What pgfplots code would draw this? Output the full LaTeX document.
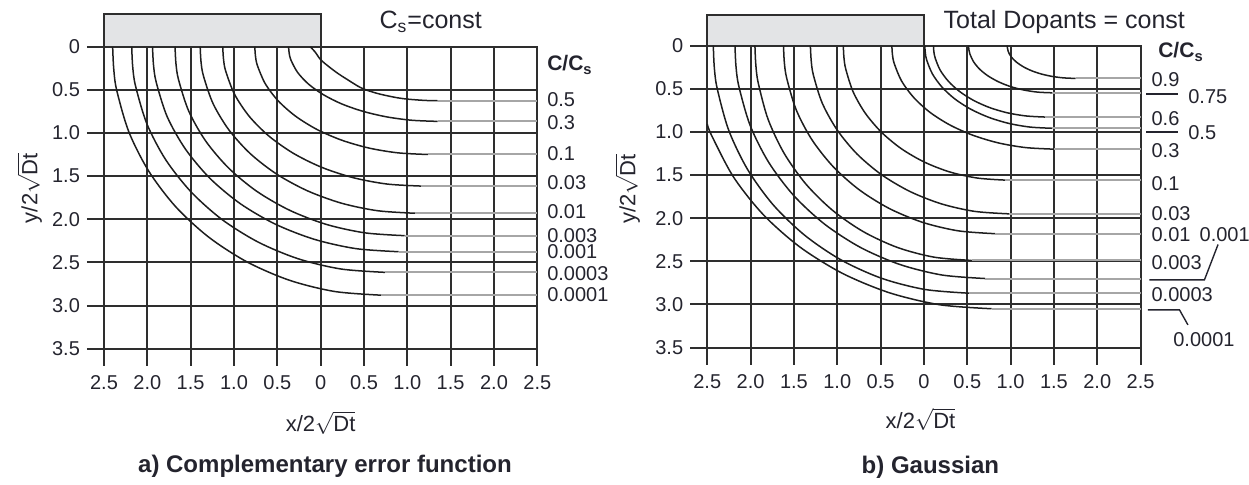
\documentclass[border=0pt]{standalone}
\usepackage{fontspec}
\setmainfont{Liberation Sans}
\usepackage{pgfplots}
\pgfplotsset{compat=1.18}

\definecolor{gridc}{HTML}{2E2E2E}
\definecolor{curvec}{HTML}{1E1E1E}
\definecolor{flatc}{HTML}{A6A6A6}
\definecolor{maskc}{HTML}{E3E4E6}
\definecolor{txt}{HTML}{24242E}

\tikzset{
  lbl/.style={anchor=west, text=txt, font=\fontsize{10}{11}\selectfont, inner sep=0pt},
}

\pgfplotsset{
  diffgrid/.style={
    x=43.3pt, y=43.1pt,
    xmin=-2.5, xmax=2.5, ymin=0, ymax=3.5,
    y dir=reverse,
    xtick={-2.5,-2,-1.5,-1,-0.5,0,0.5,1,1.5,2,2.5},
    xticklabels={2.5,2.0,1.5,1.0,0.5,0,0.5,1.0,1.5,2.0,2.5},
    ytick={0,0.5,1,1.5,2,2.5,3,3.5},
    yticklabels={0,0.5,1.0,1.5,2.0,2.5,3.0,3.5},
    grid=major,
    major grid style={line width=1pt, gridc},
    axis line style={line width=1pt, gridc},
    tick align=outside,
    major tick length=8.5pt,
    xtick pos=left, xticklabel pos=left,
    ytick pos=left, yticklabel pos=left,
    tick style={line width=1pt, gridc},
    tick label style={font=\fontsize{10}{12}\selectfont, text=txt},
    xticklabel style={yshift=-1.5pt},
    clip=false,
  },
  curve/.style={curvec, line width=0.75pt, smooth},
  flat/.style={flatc, line width=1pt},
}

\begin{document}
\begin{tikzpicture}

% ---------------- a) constant surface concentration ----------------
\begin{axis}[diffgrid, name=pa]
  \draw[line width=1pt, gridc, fill=maskc] (axis cs:-2.5,0) rectangle (axis cs:0,-0.377);

  % C/Cs = 0.0001
  \addplot[curve] coordinates {(-2.40,0) (-2.388,0.251) (-2.354,0.501) (-2.214,0.985) (-1.985,1.44) (-1.675,1.852) (-1.293,2.206) (-0.85,2.494) (-0.36,2.707) (0.161,2.837) (0.70,2.88)};
  \addplot[flat] coordinates {(0.70,2.88) (2.5,2.88)};
  % 0.0003
  \addplot[curve] coordinates {(-2.18,0) (-2.169,0.228) (-2.136,0.455) (-2.005,0.894) (-1.789,1.308) (-1.497,1.681) (-1.138,2.003) (-0.72,2.265) (-0.259,2.458) (0.232,2.576) (0.74,2.615)};
  \addplot[flat] coordinates {(0.74,2.615) (2.5,2.615)};
  % 0.001
  \addplot[curve] coordinates {(-1.94,0) (-1.929,0.207) (-1.897,0.413) (-1.77,0.813) (-1.559,1.188) (-1.275,1.528) (-0.926,1.82) (-0.52,2.058) (-0.071,2.233) (0.406,2.34) (0.90,2.376)};
  \addplot[flat] coordinates {(0.90,2.376) (2.5,2.376)};
  % 0.003
  \addplot[curve] coordinates {(-1.68,0) (-1.67,0.191) (-1.64,0.381) (-1.521,0.749) (-1.325,1.095) (-1.06,1.408) (-0.734,1.678) (-0.355,1.897) (0.064,2.059) (0.509,2.157) (0.97,2.19)};
  \addplot[flat] coordinates {(0.97,2.19) (2.5,2.19)};
  % 0.01
  \addplot[curve] coordinates {(-1.39,0) (-1.381,0.168) (-1.353,0.336) (-1.241,0.66) (-1.058,0.965) (-0.81,1.241) (-0.505,1.478) (-0.15,1.671) (0.242,1.814) (0.658,1.901) (1.09,1.93)};
  \addplot[flat] coordinates {(1.09,1.93) (2.5,1.93)};
  % 0.03
  \addplot[curve] coordinates {(-1.13,0) (-1.121,0.141) (-1.096,0.281) (-0.993,0.552) (-0.823,0.808) (-0.594,1.038) (-0.312,1.237) (0.015,1.399) (0.377,1.518) (0.762,1.591) (1.16,1.615)};
  \addplot[flat] coordinates {(1.16,1.615) (2.5,1.615)};
  % 0.1
  \addplot[curve] coordinates {(-0.76,0) (-0.752,0.109) (-0.73,0.217) (-0.64,0.427) (-0.492,0.625) (-0.292,0.803) (-0.046,0.957) (0.24,1.082) (0.556,1.174) (0.892,1.23) (1.24,1.249)};
  \addplot[flat] coordinates {(1.24,1.249) (2.5,1.249)};
  % 0.3
  \addplot[curve] coordinates {(-0.37,0) (-0.363,0.075) (-0.344,0.151) (-0.267,0.296) (-0.14,0.433) (0.032,0.556) (0.244,0.663) (0.49,0.749) (0.762,0.813) (1.051,0.852) (1.35,0.865)};
  \addplot[flat] coordinates {(1.35,0.865) (2.5,0.865)};
  % 0.5
  \addplot[curve] coordinates {(-0.12,0) (-0.066,0.058) (0,0.15) (0.1,0.235) (0.2,0.31) (0.3,0.375) (0.47,0.478) (0.65,0.54) (0.85,0.585) (1.0,0.607) (1.2,0.622) (1.35,0.626)};
  \addplot[flat] coordinates {(1.35,0.626) (2.5,0.626)};

  \node[text=txt, font=\fontsize{12.5}{14}\selectfont] at (axis cs:1.27,-0.29) {C\textsubscript{s}=const};
  \node[lbl, font=\bfseries\fontsize{10.5}{12}\selectfont] at (axis cs:2.61,0.21) {C/C\textsubscript{s}};
  \node[lbl] at (axis cs:2.61,0.615) {0.5};
  \node[lbl] at (axis cs:2.61,0.877) {0.3};
  \node[lbl] at (axis cs:2.61,1.238) {0.1};
  \node[lbl] at (axis cs:2.61,1.572) {0.03};
  \node[lbl] at (axis cs:2.61,1.915) {0.01};
  \node[lbl] at (axis cs:2.61,2.19) {0.003};
  \node[lbl] at (axis cs:2.61,2.38) {0.001};
  \node[lbl] at (axis cs:2.61,2.633) {0.0003};
  \node[lbl] at (axis cs:2.61,2.875) {0.0001};

  \node[text=txt, inner sep=1pt, font=\fontsize{11}{13}\selectfont] at (axis cs:0,4.36) {x/2$\sqrt{\mbox{Dt}}$};
  \node[text=txt, inner sep=1pt, rotate=90, font=\fontsize{11}{13}\selectfont] at (axis cs:-3.36,1.64) {y/2$\sqrt{\mbox{Dt}}$};
  \node[text=txt, font=\bfseries\fontsize{12}{14}\selectfont] at (axis cs:0.05,4.86) {a) Complementary error function};

  \coordinate (bbA) at (axis cs:-3.70,-0.542);
  \coordinate (bbB) at (axis cs:10.712,5.073);
  \coordinate (bSW) at (axis cs:4.461,3.487);
\end{axis}

% ---------------- b) constant total dose ----------------
\begin{axis}[diffgrid, name=pb, at={(bSW)}, anchor=south west]
  \draw[line width=1pt, gridc, fill=maskc] (axis cs:-2.5,0) rectangle (axis cs:0,-0.36);

  % C/Cs = 0.0001
  \addplot[curve] coordinates {(-2.5,0.91) (-2.449,1.043) (-2.196,1.525) (-1.852,1.961) (-1.429,2.336) (-0.938,2.641) (-0.395,2.866) (0.183,3.004) (0.78,3.05)};
  \addplot[flat] coordinates {(0.78,3.05) (2.5,3.05)};
  % 0.0003
  \addplot[curve] coordinates {(-2.43,0) (-2.419,0.25) (-2.385,0.499) (-2.252,0.982) (-2.035,1.435) (-1.74,1.845) (-1.376,2.198) (-0.955,2.485) (-0.489,2.697) (0.008,2.826) (0.52,2.87)};
  \addplot[flat] coordinates {(0.52,2.87) (2.5,2.87)};
  % 0.001
  \addplot[curve] coordinates {(-2.18,0) (-2.169,0.235) (-2.136,0.469) (-2.006,0.923) (-1.793,1.35) (-1.504,1.736) (-1.148,2.068) (-0.735,2.338) (-0.278,2.537) (0.208,2.659) (0.71,2.70)};
  \addplot[flat] coordinates {(0.71,2.70) (2.5,2.70)};
  % 0.003
  \addplot[curve] coordinates {(-1.95,0) (-1.94,0.217) (-1.912,0.432) (-1.799,0.852) (-1.615,1.245) (-1.365,1.601) (-1.057,1.907) (-0.70,2.156) (-0.305,2.34) (0.116,2.452) (0.55,2.49)};
  \addplot[flat] coordinates {(0.55,2.49) (2.5,2.49)};
  % 0.01
  \addplot[curve] coordinates {(-1.62,0) (-1.611,0.19) (-1.583,0.379) (-1.473,0.746) (-1.293,1.09) (-1.049,1.401) (-0.748,1.67) (-0.40,1.888) (-0.014,2.049) (0.396,2.147) (0.82,2.18)};
  \addplot[flat] coordinates {(0.82,2.18) (2.5,2.18)};
  % 0.03
  \addplot[curve] coordinates {(-1.31,0) (-1.301,0.17) (-1.276,0.339) (-1.173,0.667) (-1.003,0.975) (-0.774,1.254) (-0.492,1.494) (-0.165,1.689) (0.197,1.833) (0.582,1.921) (0.98,1.95)};
  \addplot[flat] coordinates {(0.98,1.95) (2.5,1.95)};
  % 0.1
  \addplot[curve] coordinates {(-0.93,0) (-0.923,0.136) (-0.902,0.271) (-0.818,0.533) (-0.679,0.78) (-0.492,1.002) (-0.262,1.194) (0.005,1.35) (0.30,1.465) (0.615,1.535) (0.94,1.559)};
  \addplot[flat] coordinates {(0.94,1.559) (2.5,1.559)};
  % 0.3
  \addplot[curve] coordinates {(-0.37,0) (-0.363,0.105) (-0.342,0.209) (-0.258,0.41) (-0.119,0.60) (0.068,0.772) (0.298,0.919) (0.565,1.039) (0.86,1.128) (1.175,1.182) (1.5,1.2)};
  \addplot[flat] coordinates {(1.5,1.2) (2.5,1.2)};
  % 0.5
  \addplot[curve] coordinates {(0.01,0) (0.016,0.084) (0.032,0.167) (0.098,0.328) (0.207,0.479) (0.354,0.616) (0.535,0.734) (0.745,0.83) (0.977,0.901) (1.224,0.944) (1.48,0.958)};
  \addplot[flat] coordinates {(1.48,0.958) (2.5,0.958)};
  % 0.6
  \addplot[curve] coordinates {(0.11,0) (0.115,0.072) (0.13,0.144) (0.187,0.283) (0.283,0.414) (0.412,0.532) (0.571,0.634) (0.755,0.717) (0.959,0.778) (1.176,0.815) (1.40,0.828)};
  \addplot[flat] coordinates {(1.40,0.828) (2.5,0.828)};
  % 0.75
  \addplot[curve] coordinates {(0.515,0) (0.519,0.048) (0.53,0.095) (0.573,0.187) (0.644,0.274) (0.741,0.352) (0.86,0.419) (0.997,0.474) (1.15,0.514) (1.312,0.539) (1.48,0.547)};
  \addplot[flat] coordinates {(1.48,0.547) (2.5,0.547)};
  % 0.9
  \addplot[curve] coordinates {(0.96,0) (0.972,0.066) (1.007,0.13) (1.066,0.19) (1.145,0.244) (1.242,0.291) (1.355,0.329) (1.48,0.357) (1.613,0.374) (1.75,0.38)};
  \addplot[flat] coordinates {(1.75,0.38) (2.5,0.38)};

  \node[text=txt, font=\fontsize{12.5}{14}\selectfont] at (axis cs:1.62,-0.27) {Total Dopants = const};
  \node[lbl, font=\bfseries\fontsize{10.5}{12}\selectfont] at (axis cs:2.70,0.075) {C/C\textsubscript{s}};
  \node[lbl] at (axis cs:2.622,0.394) {0.9};
  \draw[txt, line width=0.7pt] (axis cs:2.564,0.561) -- (axis cs:2.934,0.561);
  \node[lbl] at (axis cs:3.046,0.588) {0.75};
  \node[lbl] at (axis cs:2.622,0.847) {0.6};
  \draw[txt, line width=0.7pt] (axis cs:2.564,1.002) -- (axis cs:2.934,1.002);
  \node[lbl] at (axis cs:3.046,1.014) {0.5};
  \node[lbl] at (axis cs:2.622,1.215) {0.3};
  \node[lbl] at (axis cs:2.622,1.594) {0.1};
  \node[lbl] at (axis cs:2.622,1.942) {0.03};
  \node[lbl] at (axis cs:2.622,2.193) {0.01};
  \node[lbl] at (axis cs:3.177,2.193) {0.001};
  \draw[txt, line width=0.7pt] (axis cs:3.394,2.305) -- (axis cs:3.237,2.715) -- (axis cs:2.60,2.715);
  \node[lbl] at (axis cs:2.622,2.51) {0.003};
  \node[lbl] at (axis cs:2.622,2.889) {0.0003};
  \draw[txt, line width=0.7pt] (axis cs:2.583,3.063) -- (axis cs:2.949,3.063) -- (axis cs:3.046,3.237);
  \node[lbl] at (axis cs:2.873,3.411) {0.0001};

  \node[text=txt, inner sep=1pt, font=\fontsize{11}{13}\selectfont] at (axis cs:-0.04,4.33) {x/2$\sqrt{\mbox{Dt}}$};
  \node[text=txt, inner sep=1pt, rotate=90, font=\fontsize{11}{13}\selectfont] at (axis cs:-3.42,1.66) {y/2$\sqrt{\mbox{Dt}}$};
  \node[text=txt, font=\bfseries\fontsize{12}{14}\selectfont] at (axis cs:0.075,4.89) {b) Gaussian};
\end{axis}

\pgfresetboundingbox
\path[use as bounding box] (bbA) rectangle (bbB);
\end{tikzpicture}
\end{document}
